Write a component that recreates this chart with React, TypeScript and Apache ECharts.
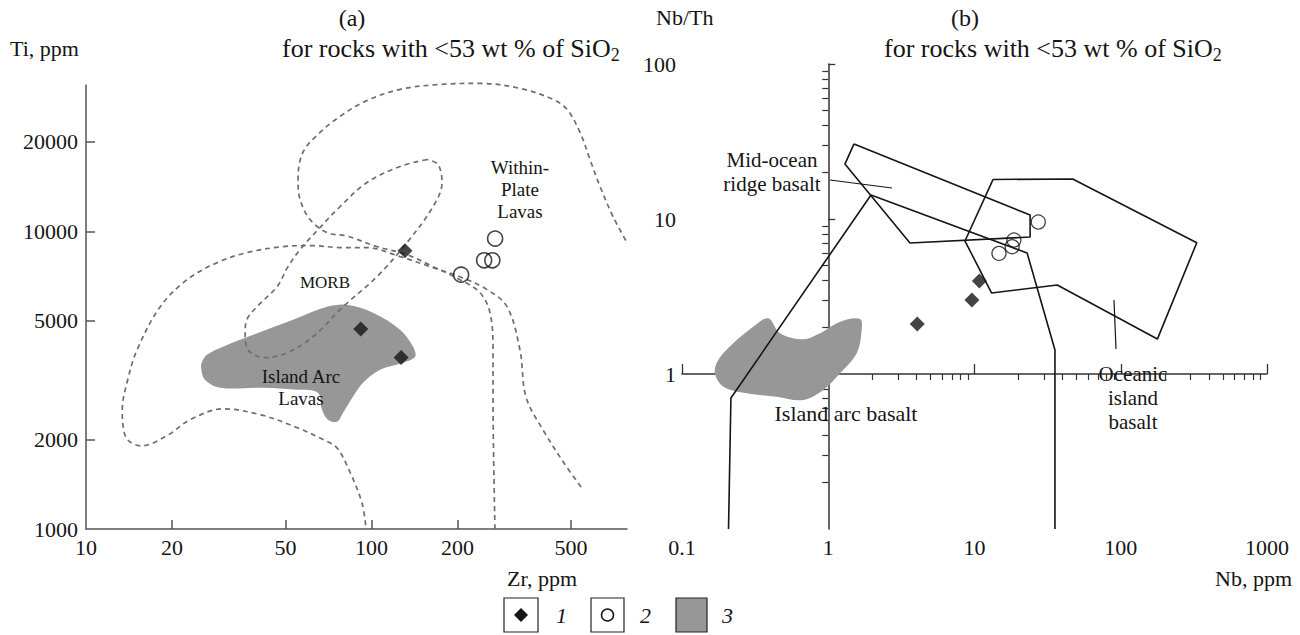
import React, { useEffect, useRef } from 'react';
import * as echarts from 'echarts';

// ---------- Panel (a): Zr vs Ti (ppm) ----------
const zrLabels = [10, 20, 50, 100, 200, 500];
const zrTicks = [20, 50, 100, 200, 500];
const tiLabels = [1000, 2000, 5000, 10000, 20000];
const tiTicks = [2000, 5000, 10000, 20000];
const zrRange = [10, 785];
const tiRange = [1000, 31000];

const group1A = [[131, 8610], [91.7, 4700], [127, 3770]];
const group2A = [[206, 7150], [248, 7990], [265, 7990], [271, 9450]];

const islandArcFieldA = [
  [25.5, 3645], [26.5, 3848], [30.2, 4095], [38.5, 4492], [53.1, 5047], [69.9, 5580],
  [82.1, 5667], [101.2, 5328], [125.9, 4670], [139.8, 4095], [142.1, 3789], [128.9, 3618],
  [107.1, 3425], [93.4, 3098], [86.1, 2780], [79.5, 2456], [75.7, 2290], [70.4, 2326],
  [67.1, 2514], [64.9, 2868], [54.8, 2935], [41.7, 2981], [29.5, 2981], [26.1, 3171], [25.3, 3479],
];

const withinPlateCurve = [
  [270.7, 1000], [266.5, 2716], [266.5, 4000], [260, 5328], [239.9, 6220], [204, 6878],
  [164.3, 7607], [133.1, 8349], [104.5, 8880], [82.1, 9636], [69.9, 9900], [60.9, 10950],
  [56.2, 12785], [55.3, 14930], [57.5, 18400], [66.0, 21480], [77.6, 24310], [94.9, 27310],
  [125.9, 29980], [173.8, 31140], [239.9, 31390], [331, 30200], [432.3, 27730], [484, 25670],
  [537.5, 21480], [582.6, 17420], [631.6, 14140], [701.5, 11200], [785, 9162],
];

const morbLoop = [
  [156.5, 17420], [125.9, 16510], [96.4, 14580], [77.6, 12110], [66.0, 10290], [56.2, 8680],
  [51.0, 7607], [46.7, 6517], [39.7, 5580], [36.6, 5047], [36.1, 4563], [36.9, 4000],
  [42.4, 3760], [50.6, 3908], [62.4, 4424], [79.5, 5580], [104.5, 7040], [133.1, 9162],
  [164.3, 12110], [176.6, 14580], [171, 16770], [156.5, 17420],
];

const islandArcCurve = [
  [542, 1384], [472, 1667], [398.7, 2153], [347.5, 2780], [331, 4000], [298.4, 5580],
  [254, 6367], [204, 7040], [164.3, 7551], [125.9, 8222], [96.4, 8815], [77.6, 8815],
  [62.4, 8954], [49.0, 8880], [36.6, 8479], [28.8, 7846], [22.6, 6878], [18.2, 5580],
  [15.1, 4000], [14.0, 3171], [13.4, 2514], [13.5, 2203], [14.0, 1992], [15.6, 1902],
  [19.4, 2070], [23.1, 2326], [30.2, 2533], [41.0, 2418], [54.0, 2203], [68.2, 1992],
  [75.7, 1873], [83.4, 1579], [92.6, 1223], [95.7, 1000],
];

// ---------- Panel (b): Nb vs Nb/Th ----------
const nbLabels = [0.1, 1, 10, 100, 1000];
const nbthLabels = [1, 10, 100];
const nbRange = [0.1, 1000];
const nbthRange = [0.1, 100];

const group1B = [[10.8, 3.98], [9.6, 3.0], [4.06, 2.1]];
const group2B = [[27.3, 9.56], [18.6, 7.32], [18.1, 6.63], [14.7, 6.0]];

const morbField = [[1.5, 30.5], [24.0, 10.6], [24.0, 7.65], [3.62, 7.0], [1.3, 22.6], [1.5, 30.5]];
const oibField = [
  [13.4, 18.0], [46.9, 18.1], [331, 7.03], [178, 1.68], [36.8, 3.75], [13.1, 3.33], [8.61, 7.21], [13.4, 18.0],
];
const arrayLine = [[0.208, 0.1], [0.216, 0.7], [1.96, 14.3], [22.9, 6.03], [35.5, 1.43], [35.5, 0.1]];
const islandArcFieldB = [
  [0.389, 2.288], [0.468, 1.83], [0.675, 1.674], [0.878, 1.83], [1.204, 2.175], [1.648, 2.264],
  [1.693, 1.923], [1.565, 1.36], [1.204, 1.01], [0.925, 0.788], [0.675, 0.68], [0.444, 0.714],
  [0.277, 0.751], [0.192, 0.828], [0.168, 1.01], [0.177, 1.231], [0.224, 1.578], [0.307, 2.02],
];
const morbArrow = [[1.028, 17.85], [2.73, 15.85]];
const oibArrow = [[92.8, 1.45], [89.9, 3.0]];

const FONT = '"Liberation Serif", "Times New Roman", serif';
const lg = (v: number) => Math.log10(v);
const toLog = (pts: number[][]) => pts.map(([x, y]) => [lg(x), lg(y)]);
const fmt = (v: number) => {
  const r = Math.pow(10, v);
  return r < 1 ? String(Math.round(r * 10) / 10) : String(Math.round(r));
};
const minorTicks = (from: number, to: number) => {
  const out: number[] = [];
  for (let d = from; d < to; d++) for (let k = 2; k <= 9; k++) out.push(lg(k * Math.pow(10, d)));
  return out;
};

const GRAY = '#979797';
const DASH = '#6e6e6e';
const INK = '#151515';
const TICK_FS = 22;
const TXT_FS = 22;
const TITLE_FS = 26;

function polygonSeries(points: number[][], xi: number, yi: number, smooth: number) {
  const logPts = toLog(points);
  return {
    type: 'custom',
    xAxisIndex: xi,
    yAxisIndex: yi,
    silent: true,
    z: 1,
    data: [logPts[0]],
    renderItem: (_params: any, api: any) => ({
      type: 'polygon',
      shape: { points: logPts.map((p) => api.coord(p)), smooth },
      style: { fill: GRAY, stroke: 'none' },
    }),
  };
}

function lineSeries(points: number[][], xi: number, yi: number, dashed: boolean, extra: any = {}) {
  return {
    type: 'line',
    xAxisIndex: xi,
    yAxisIndex: yi,
    data: toLog(points),
    symbol: 'none',
    showSymbol: false,
    smooth: dashed ? 0.35 : false,
    clip: false,
    silent: true,
    z: 3,
    lineStyle: dashed
      ? { color: DASH, width: 1.7, type: [5, 4] }
      : { color: INK, width: 1.6, type: 'solid' },
    ...extra,
  };
}

function text(x: number, y: number, s: string, size = TXT_FS, align = 'center', extra: any = {}) {
  return {
    type: 'text',
    x,
    y,
    z: 100,
    silent: true,
    style: {
      text: s,
      fontSize: size,
      fontFamily: FONT,
      fill: INK,
      align,
      verticalAlign: 'middle',
      ...extra,
    },
  };
}

function titleSiO2(x: number, y: number) {
  return {
    type: 'text',
    x,
    y,
    z: 100,
    silent: true,
    style: {
      text: '{a|for rocks with <53 wt % of SiO}{s|2}',
      align: 'left',
      verticalAlign: 'middle',
      rich: {
        a: { fontSize: TITLE_FS, fontFamily: FONT, fill: INK, lineHeight: 32, verticalAlign: 'middle' },
        s: { fontSize: 18, fontFamily: FONT, fill: INK, lineHeight: 18, verticalAlign: 'bottom' },
      },
    },
  };
}

export default function App() {
  const ref = useRef<HTMLDivElement>(null);
  useEffect(() => {
    if (!ref.current) return;
    const chart = echarts.init(ref.current, undefined, { renderer: 'svg' });

    const labelStyle = { fontFamily: FONT, fontSize: TICK_FS, color: INK };

    const option: any = {
      animation: false,
      backgroundColor: '#fff',
      grid: [
        { left: 86, top: 85, width: 541, height: 444 },
        { left: 682, top: 64, width: 585, height: 465 },
      ],
      xAxis: [
        {
          gridIndex: 0, type: 'value', min: lg(zrRange[0]), max: lg(zrRange[1]),
          axisLine: { show: true, lineStyle: { color: '#555', width: 1.5 } },
          axisTick: { show: true, inside: true, length: 9, customValues: zrTicks.map(lg), lineStyle: { color: '#555', width: 1.5 } },
          axisLabel: { ...labelStyle, margin: 7, customValues: zrLabels.map(lg), formatter: fmt },
          splitLine: { show: false },
        },
        {
          gridIndex: 1, type: 'value', min: lg(nbRange[0]), max: lg(nbRange[1]),
          axisLine: { show: true, lineStyle: { color: '#333', width: 1.5 } },
          axisTick: { show: true, inside: true, length: 10, customValues: nbLabels.map(lg), lineStyle: { color: '#333', width: 1.3 } },
          axisLabel: { ...labelStyle, margin: 7, customValues: nbLabels.map(lg), formatter: fmt },
          splitLine: { show: false },
        },
        {
          gridIndex: 1, type: 'value', min: lg(nbRange[0]), max: lg(nbRange[1]),
          axisLine: { show: false },
          axisTick: { show: true, inside: true, length: 6, customValues: minorTicks(-1, 3), lineStyle: { color: '#333', width: 1.2 } },
          axisLabel: { show: false },
          splitLine: { show: false },
        },
      ],
      yAxis: [
        {
          gridIndex: 0, type: 'value', min: lg(tiRange[0]), max: lg(tiRange[1]),
          axisLine: { show: true, lineStyle: { color: '#555', width: 1.5 } },
          axisTick: { show: true, inside: true, length: 9, customValues: tiTicks.map(lg), lineStyle: { color: '#555', width: 1.5 } },
          axisLabel: { ...labelStyle, margin: 8, customValues: tiLabels.map(lg), formatter: fmt },
          splitLine: { show: false },
        },
        {
          gridIndex: 1, type: 'value', min: lg(nbthRange[0]), max: lg(nbthRange[1]),
          axisLine: { show: true, lineStyle: { color: '#333', width: 1.5 } },
          axisTick: { show: true, inside: true, length: 7, customValues: nbthLabels.map(lg), lineStyle: { color: '#333', width: 1.3 } },
          axisLabel: { ...labelStyle, margin: 6, customValues: nbthLabels.map(lg), formatter: fmt },
          splitLine: { show: false },
        },
        {
          gridIndex: 1, type: 'value', min: lg(nbthRange[0]), max: lg(nbthRange[1]),
          axisLine: { show: false },
          axisTick: { show: true, inside: true, length: 6, customValues: minorTicks(-1, 2), lineStyle: { color: '#333', width: 1.2 } },
          axisLabel: { show: false },
          splitLine: { show: false },
        },
      ],
      series: [
        polygonSeries(islandArcFieldA, 0, 0, 0.35),
        lineSeries(withinPlateCurve, 0, 0, true),
        lineSeries(morbLoop, 0, 0, true),
        lineSeries(islandArcCurve, 0, 0, true),
        {
          type: 'scatter', xAxisIndex: 0, yAxisIndex: 0, data: toLog(group1A),
          symbol: 'diamond', symbolSize: 15, itemStyle: { color: INK }, z: 5, silent: true,
        },
        {
          type: 'scatter', xAxisIndex: 0, yAxisIndex: 0, data: toLog(group2A),
          symbol: 'circle', symbolSize: 15, z: 5, silent: true,
          itemStyle: { color: 'rgba(0,0,0,0)', borderColor: INK, borderWidth: 1.6 },
        },

        polygonSeries(islandArcFieldB, 1, 1, 0.35),
        lineSeries(morbField, 1, 1, false),
        lineSeries(oibField, 1, 1, false),
        lineSeries(arrayLine, 1, 1, false, {
          markLine: {
            silent: true,
            symbol: ['none', 'arrow'],
            symbolSize: [0, 9],
            label: { show: false },
            lineStyle: { color: INK, width: 1.2, type: 'solid' },
            data: [
              [{ coord: toLog(morbArrow)[0] }, { coord: toLog(morbArrow)[1] }],
              [{ coord: toLog(oibArrow)[0] }, { coord: toLog(oibArrow)[1] }],
            ],
          },
        }),
        {
          type: 'scatter', xAxisIndex: 1, yAxisIndex: 1, data: toLog(group1B),
          symbol: 'diamond', symbolSize: 15, itemStyle: { color: INK }, z: 5, silent: true,
        },
        {
          type: 'scatter', xAxisIndex: 1, yAxisIndex: 1, data: toLog(group2B),
          symbol: 'circle', symbolSize: 14, z: 5, silent: true,
          itemStyle: { color: 'rgba(0,0,0,0)', borderColor: INK, borderWidth: 1.3 },
        },
      ],
      graphic: [
        // panel (a) titles
        text(352, 18, '(a)', 24),
        text(10, 48, 'Ti, ppm', TXT_FS, 'left'),
        titleSiO2(282, 48),
        text(542, 578, 'Zr, ppm', TXT_FS),
        // panel (b) titles
        text(965, 18, '(b)', 24),
        text(656, 17, 'Nb/Th', TXT_FS, 'left'),
        titleSiO2(884, 48),
        text(1292, 578, 'Nb, ppm', TXT_FS, 'right'),
        // annotations (a)
        text(325, 282, 'MORB', 17),
        text(520, 189, 'Within-\nPlate\nLavas', 19, 'center', { lineHeight: 22 }),
        text(301, 387, 'Island Arc\nLavas', 19, 'center', { lineHeight: 22 }),
        // annotations (b)
        text(772, 172, 'Mid-ocean\nridge basalt', 21, 'center', { lineHeight: 24 }),
        text(1133, 398, 'Oceanic\nisland\nbasalt', 21, 'center', { lineHeight: 24 }),
        text(846, 413, 'Island arc basalt', TXT_FS),
        // legend
        { type: 'rect', z: 100, shape: { x: 504, y: 598, width: 34, height: 34 }, style: { fill: '#fff', stroke: '#222', lineWidth: 1.2 }, silent: true },
        { type: 'polygon', z: 101, shape: { points: [[521, 608], [528, 615], [521, 622], [514, 615]] }, style: { fill: INK }, silent: true },
        text(556, 615, '1', TXT_FS, 'left', { fontStyle: 'italic' }),
        { type: 'rect', z: 100, shape: { x: 591, y: 598, width: 33, height: 34 }, style: { fill: '#fff', stroke: '#222', lineWidth: 1.2 }, silent: true },
        { type: 'circle', z: 101, shape: { cx: 607.5, cy: 615, r: 6 }, style: { fill: 'none', stroke: INK, lineWidth: 1.5 }, silent: true },
        text(640, 615, '2', TXT_FS, 'left', { fontStyle: 'italic' }),
        { type: 'rect', z: 100, shape: { x: 676, y: 598, width: 31, height: 34 }, style: { fill: GRAY, stroke: '#222', lineWidth: 1.2 }, silent: true },
        text(722, 615, '3', TXT_FS, 'left', { fontStyle: 'italic' }),
      ],
    };

    chart.setOption(option);
    return () => chart.dispose();
  }, []);

  return (
    <div
      ref={ref}
      style={{ position: 'absolute', left: 0, top: 0, width: 1300, height: 635, background: '#fff' }}
    />
  );
}
